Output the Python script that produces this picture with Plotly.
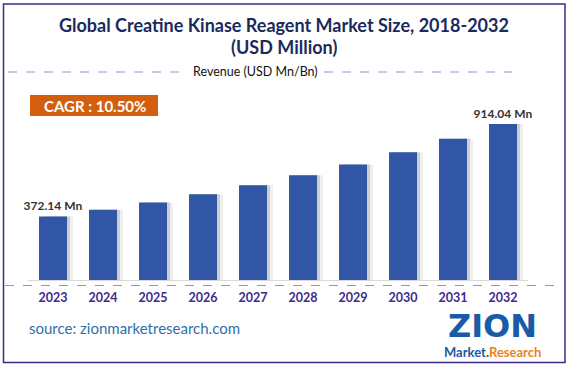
import plotly.graph_objects as go

years = ["2023", "2024", "2025", "2026", "2027", "2028", "2029", "2030", "2031", "2032"]
revenue = [372.14, 411.2, 454.4, 502.1, 554.8, 613.1, 677.4, 748.6, 827.2, 914.04]
labeled_idx = [0, 9]
title_lines = ["Global Creatine Kinase Reagent Market Size, 2018-2032", "(USD Million)"]
subtitle = "Revenue (USD Mn/Bn)"
cagr_text = "CAGR : 10.50%"
source_text = "source: zionmarketresearch.com"

W, H = 569, 367
L, R, T, B = 28, 528, 90, 280  # plot area in pixels
YMAX = (B - T) * 914.04 / 156.0

def px(x):
    return (x - L) / (R - L)

def py(y):
    return (B - y) / (B - T)

FONT = "Lato, 'Open Sans', sans-serif"
bar_labels = [f"{v:.2f} Mn" if i in labeled_idx else "" for i, v in enumerate(revenue)]

fig = go.Figure()
# soft shadow (two layers to fake a gradient)
fig.add_trace(go.Bar(x=years, y=revenue, width=0.56, offset=-0.28 + 0.12,
                     marker=dict(color="rgba(120,120,120,0.12)", line=dict(width=0)),
                     hoverinfo="skip", showlegend=False))
fig.add_trace(go.Bar(x=years, y=revenue, width=0.56, offset=-0.28 + 0.06,
                     marker=dict(color="rgba(90,90,90,0.22)", line=dict(width=0)),
                     hoverinfo="skip", showlegend=False))
fig.add_trace(go.Bar(x=years, y=revenue, width=0.56, offset=-0.28,
                     marker=dict(color="#3056A5", line=dict(width=0)),
                     text=bar_labels, textposition="outside", cliponaxis=False, constraintext="none",
                     textfont=dict(family=FONT, size=12, color="#333333", weight="bold"),
                     showlegend=False))

shapes = []
shapes.append(dict(type="rect", xref="paper", yref="paper", x0=px(3.5), x1=px(565), y0=py(4), y1=py(362.5),
                   line=dict(color="#3E2A8C", width=1.5), fillcolor="rgba(0,0,0,0)", layer="below"))
shapes.append(dict(type="line", xref="paper", yref="paper", x0=px(8), x1=px(186), y0=py(72), y1=py(72),
                   line=dict(color="#7F9BD1", width=1, dash="dash")))
shapes.append(dict(type="line", xref="paper", yref="paper", x0=px(324), x1=px(512), y0=py(72), y1=py(72),
                   line=dict(color="#7F9BD1", width=1, dash="dash")))
shapes.append(dict(type="line", xref="paper", yref="paper", x0=px(5), x1=px(560), y0=py(285.5), y1=py(285.5),
                   line=dict(color="#7F9BD1", width=1, dash="dash")))
shapes.append(dict(type="rect", xref="paper", yref="paper", x0=px(30), x1=px(158), y0=py(95), y1=py(116),
                   line=dict(width=0), fillcolor="#D35F0E"))

def note(text, x, y, size, color, xanchor="center", family=FONT):
    return dict(text=text, x=px(x), y=py(y), xref="paper", yref="paper", xanchor=xanchor, yanchor="middle",
                showarrow=False, font=dict(family=family, size=size, color=color))

ann = [
    note(f"<b>{title_lines[0]}</b>", 284, 25, 18, "#1B2A5C"),
    note(f"<b>{title_lines[1]}</b>", 284, 47, 18, "#1B2A5C"),
    note(subtitle, 255, 72, 12.5, "#111111"),
    note(f"<b>{cagr_text}</b>", 95, 105.5, 15, "white"),
    note(source_text, 27, 328, 15, "#2F6FA8", xanchor="left"),
    note("<b>ZION</b>", 492, 326, 32, "#1A5BA6", family="'DejaVu Sans', sans-serif"),
    note("<b><span style='color:#1A5BA6'>Market.</span><span style='color:#E8821E'>Research</span></b>",
         492, 352, 13, "#1A5BA6"),
]

fig.update_layout(
    width=W, height=H,
    margin=dict(l=L, r=W - R, t=T, b=H - B, autoexpand=False),
    paper_bgcolor="white", plot_bgcolor="white",
    barmode="overlay",
    shapes=shapes, annotations=ann,
    xaxis=dict(showgrid=False, showline=True, linecolor="#D9D9D9", linewidth=1,
               ticks="", tickfont=dict(family=FONT, size=12.5, color="#3E2A8C", weight="bold"),
               ticklabelstandoff=6, fixedrange=True, automargin=False),
    yaxis=dict(visible=False, range=[0, YMAX], fixedrange=True),
    showlegend=False,
)

fig.write_html("out.html", config={"displayModeBar": False},
               post_script="document.body.style.margin='0px';document.body.style.overflow='hidden';")
